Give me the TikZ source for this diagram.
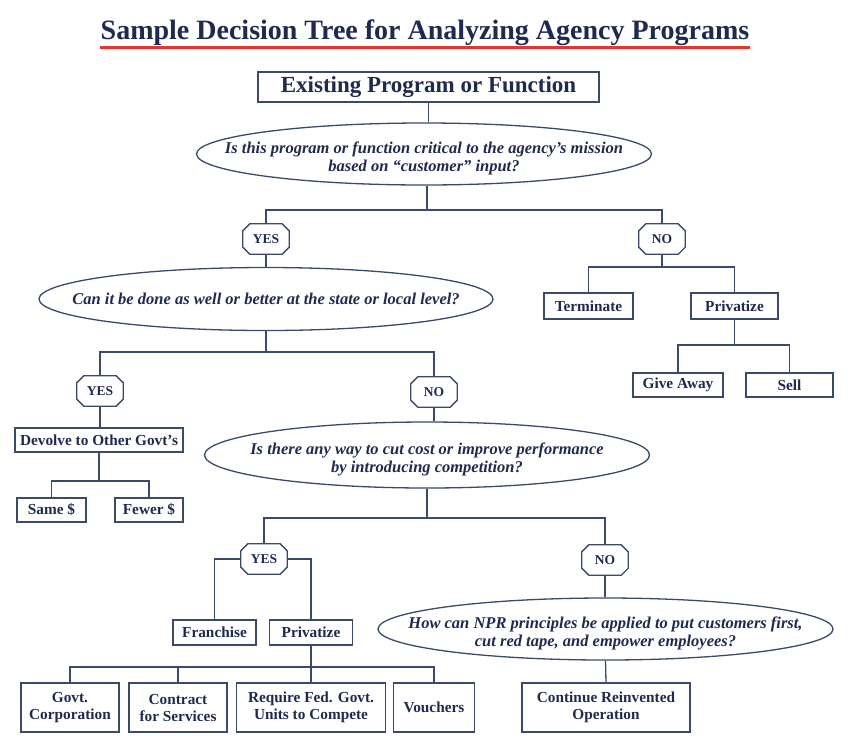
\documentclass[tikz,border=0pt]{standalone}
\usepackage{fontspec}
\setmainfont{Liberation Serif}
\usetikzlibrary{shapes.geometric}
\definecolor{ink}{HTML}{1F2A4F}
\definecolor{ln}{HTML}{3A4A6A}
\definecolor{redline}{HTML}{E2382F}
\newcommand{\lowtext}[1]{\raisebox{-5pt}[\height][\depth]{\begin{tabular}{@{}c@{}}#1\end{tabular}}}
\begin{document}
\begin{tikzpicture}[x=1pt,y=-1pt,
 every node/.style={text=ink},
 box/.style={draw=ln, line width=1.3pt, rectangle, inner sep=0pt, align=center, font=\bfseries\fontsize{15.3}{17}\selectfont},
 oval/.style={draw=ln, line width=1.3pt, ellipse, inner xsep=-60pt, inner ysep=0pt, align=center, font=\bfseries\itshape\fontsize{16.5}{18}\selectfont},
 oct/.style={rectangle, minimum width=46pt, minimum height=30pt, inner sep=0pt, font=\bfseries\fontsize{13.5}{15}\selectfont,
   append after command={\pgfextra{\draw[ln, line width=1.3pt, line join=miter]
     ([xshift=7pt]\tikzlastnode.north west) -- ([xshift=-7pt]\tikzlastnode.north east)
     -- ([yshift=-7pt]\tikzlastnode.north east) -- ([yshift=7pt]\tikzlastnode.south east)
     -- ([xshift=-7pt]\tikzlastnode.south east) -- ([xshift=7pt]\tikzlastnode.south west)
     -- ([yshift=7pt]\tikzlastnode.south west) -- ([yshift=-7pt]\tikzlastnode.north west) -- cycle;}}},
 wire/.style={draw=ln, line width=1.3pt}]
\fill[white] (0,0) rectangle (850,753);
\useasboundingbox (0,0) rectangle (850,753);
% title
\node[anchor=base, font=\bfseries\fontsize{28}{32}\selectfont] (title) at (425,39) {Sample Decision Tree for Analyzing Agency Programs};
\coordinate (rl) at (100,47);
\coordinate (rr) at (750,47);
\draw[redline, line width=3pt] (rl) -- (rr);
% top
\node[box, minimum width=341pt, minimum height=30pt, font=\bfseries\fontsize{23}{26}\selectfont] (ex) at (428.5,87) {Existing Program or Function};
\node[oval, minimum width=455pt, minimum height=62pt] (e1) at (424,154) {\lowtext{Is this program or function critical to the agency's mission\\based on ``customer'' input?}};
\node[oct] (yes1) at (266,239) {YES};
\node[oct] (no1) at (662,239) {NO};
% no branch
\node[box, minimum width=89pt, minimum height=26pt] (term) at (588.5,306) {Terminate};
\node[box, minimum width=87pt, minimum height=26pt] (priv1) at (734.5,306) {Privatize};
\node[box, minimum width=90pt, minimum height=24pt] (give) at (678,385) {Give Away};
\node[box, minimum width=87pt, minimum height=24pt] (sell) at (789.5,385) {Sell};
% yes branch
\node[oval, minimum width=454pt, minimum height=63pt] (e2) at (266,299) {Can it be done as well or better at the state or local level?};
\node[oct] (yes2) at (100,391) {YES};
\node[oct] (no2) at (434,392) {NO};
\node[box, minimum width=168pt, minimum height=24pt] (dev) at (99,440) {Devolve to Other Govt's};
\node[box, minimum width=69pt, minimum height=24pt] (same) at (51.5,510) {Same \$};
\node[box, minimum width=68pt, minimum height=24pt] (fewer) at (149,510) {Fewer \$};
\node[oval, minimum width=445pt, minimum height=66pt] (e3) at (427,455) {\lowtext{Is there any way to cut cost or improve performance\\by introducing competition?}};
\node[oct] (yes3) at (264,559) {YES};
\node[oct] (no3) at (605,560) {NO};
\node[box, minimum width=83pt, minimum height=25pt] (fr) at (214.5,632.5) {Franchise};
\node[box, minimum width=83pt, minimum height=25pt] (pv2) at (311,632.5) {Privatize};
\node[box, minimum width=98pt, minimum height=49pt] (gc) at (70,707.5) {Govt.\\Corporation};
\node[box, minimum width=98pt, minimum height=49pt] (co) at (178,707.5) {Contract\\for Services};
\node[box, minimum width=149pt, minimum height=49pt] (req) at (311,707.5) {Require Fed. Govt.\\Units to Compete};
\node[box, minimum width=81pt, minimum height=49pt] (vo) at (434,707.5) {Vouchers};
\node[oval, minimum width=455pt, minimum height=62pt] (e4) at (605.5,629) {\lowtext{How can NPR principles be applied to put customers first,\\cut red tape, and empower employees?}};
\node[box, minimum width=168pt, minimum height=49pt] (cont) at (606,707.5) {Continue Reinvented\\Operation};
% bar levels
\coordinate (b1) at (0,210);
\coordinate (b2) at (0,267);
\coordinate (b3) at (0,345);
\coordinate (b4) at (0,352);
\coordinate (b5) at (0,481);
\coordinate (b6) at (0,518);
\coordinate (b7) at (0,667);
% connectors
\draw[wire] (ex.south) -- (ex.south|-e1.north);
\path (e1.south) ++(3,0) coordinate (e1s);
\draw[wire] (e1s) -- (e1s|-b1) -| (yes1.north);
\draw[wire] (e1s|-b1) -| (no1.north);
\draw[wire] (no1.south) -- (no1.south|-b2) -| (term.north);
\draw[wire] (no1.south|-b2) -| (priv1.north);
\draw[wire] (priv1.south) -- (priv1.south|-b3) -| (give.north);
\draw[wire] (priv1.south|-b3) -| (sell.north);
\draw[wire] (yes1.south) -- (yes1.south|-e2.north);
\draw[wire] (e2.south) -- (e2.south|-b4) -| (yes2.north);
\draw[wire] (e2.south|-b4) -| (no2.north);
\draw[wire] (yes2.south) -- (dev.north-|yes2.south);
\draw[wire] (dev.south) -- (dev.south|-b5) -| (same.north);
\draw[wire] (dev.south|-b5) -| (fewer.north);
\draw[wire] (no2.south) -- (no2.south|-e3.north);
\draw[wire] (e3.south) -- (e3.south|-b6) -| (yes3.north);
\draw[wire] (e3.south|-b6) -| (no3.north);
\draw[wire] (yes3.west) -| (fr.north);
\draw[wire] (yes3.east) -| (pv2.north);
\draw[wire] (pv2.south) -- (req.north);
\draw[wire] (gc.north) -- (gc.north|-b7) -| (vo.north);
\draw[wire] (co.north) -- (co.north|-b7);
\draw[wire] (no3.south) -- (no3.south|-e4.north);
\draw[wire] (e4.south) -- (cont.north);
\end{tikzpicture}
\end{document}
